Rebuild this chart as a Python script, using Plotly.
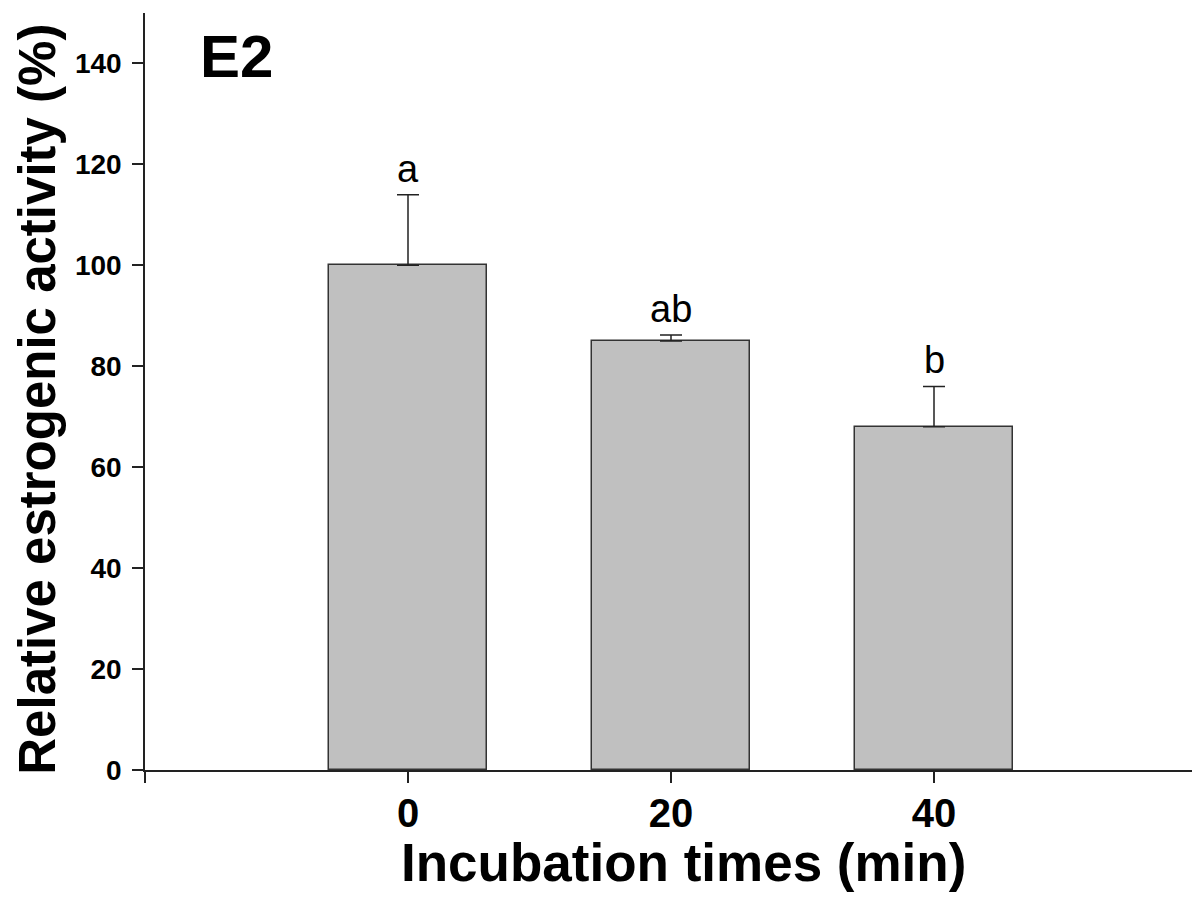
import plotly.graph_objects as go

# incubation times (min) and relative estrogenic activity (%)
times = [0, 20, 40]
activity = [100, 85, 68]
err_up = [14, 1.2, 8]
letters = ["a", "ab", "b"]

x_ticks = [-20, 0, 20, 40, 60]
x_ticktext = ["", "0", "20", "40", ""]
y_ticks = [0, 20, 40, 60, 80, 100, 120, 140]

font_family = "Arial, Liberation Sans, sans-serif"

fig = go.Figure()

fig.add_trace(go.Bar(
    x=times,
    y=activity,
    width=12,
    marker=dict(color="#c0c0c0", line=dict(color="#333333", width=1.5)),
    error_y=dict(type="data", symmetric=False, array=err_up,
                 arrayminus=[0, 0, 0], color="#222222",
                 thickness=1.5, width=11),
    showlegend=False,
))

# significance letters above the error bars
for t, v, e, lab in zip(times, activity, err_up, letters):
    fig.add_annotation(x=t, y=v + e, text=lab, showarrow=False,
                       yanchor="bottom", yshift=3,
                       font=dict(family=font_family, size=38, color="black"))

fig.add_annotation(x=0.05, y=0.99, xref="paper", yref="paper",
                   text="<b>E2</b>", showarrow=False,
                   xanchor="left", yanchor="top",
                   font=dict(family=font_family, size=60, color="black"))

# axis titles as annotations so they sit where the reference has them
fig.add_annotation(x=0.512, y=-0.08, xref="paper", yref="paper",
                   text="<b>Incubation times (min)</b>", showarrow=False,
                   xanchor="center", yanchor="top",
                   font=dict(family=font_family, size=53, color="black"))
fig.add_annotation(x=-0.103, y=0.49, xref="paper", yref="paper",
                   text="<b>Relative estrogenic activity (%)</b>", showarrow=False,
                   textangle=-90, xanchor="center", yanchor="middle",
                   font=dict(family=font_family, size=51, color="black"))

# the page body adds an 8px offset, so the figure is a bit smaller
fig.update_layout(
    width=1192, height=895,
    margin=dict(l=137, r=3, t=5, b=133, autoexpand=False),
    plot_bgcolor="white",
    paper_bgcolor="white",
    font=dict(family=font_family, color="black"),
    bargap=0,
)

fig.update_xaxes(
    range=[-20, 60],
    tickvals=x_ticks, ticktext=x_ticktext,
    ticks="outside", ticklen=11, tickwidth=1.5, tickcolor="#222",
    showline=True, linecolor="#222", linewidth=1.5,
    showgrid=False, zeroline=False,
    ticklabelstandoff=-4,
    tickfont=dict(size=40, family=font_family, color="black", weight="bold"),
)

fig.update_yaxes(
    range=[0, 150],
    tickvals=y_ticks,
    ticks="outside", ticklen=11, tickwidth=1.5, tickcolor="#222",
    showline=True, linecolor="#222", linewidth=1.5,
    showgrid=False, zeroline=False,
    ticklabelstandoff=5,
    tickfont=dict(size=28, family=font_family, color="black", weight="bold"),
)

fig.write_html("out.html")
